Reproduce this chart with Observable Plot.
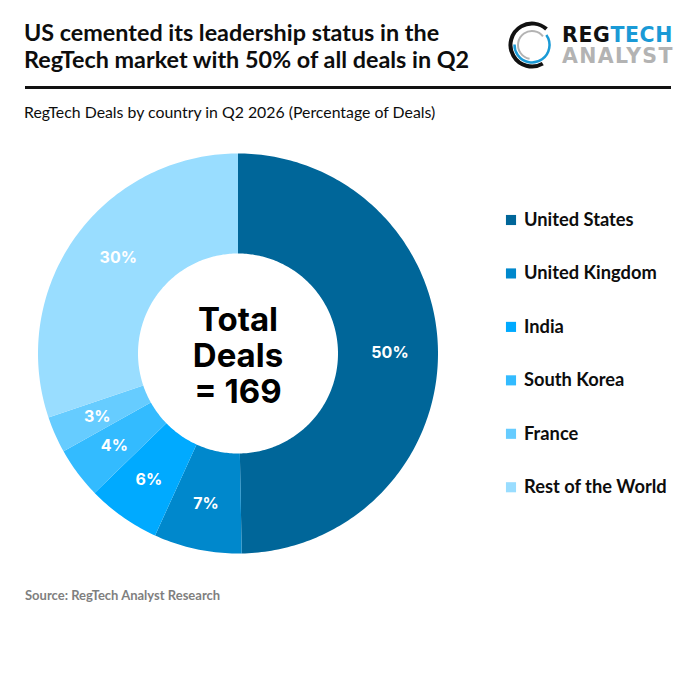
<!DOCTYPE html>
<html><head><meta charset="utf-8">
<script src="https://cdn.jsdelivr.net/npm/d3@7"></script>
<script src="https://cdn.jsdelivr.net/npm/@observablehq/plot@0.6"></script>
<style>
html,body{margin:0;padding:0;background:#fff;width:696px;height:696px;overflow:hidden}
body{position:relative;font-family:Lato,sans-serif;color:#0d0d0d}
.abs{position:absolute;white-space:nowrap}
#chart{position:absolute;left:0;top:0}
.logo{font-family:"DejaVu Sans",sans-serif;font-size:20.5px;font-weight:700;line-height:16px;height:16px}
.logo span{display:inline-block;height:16px;line-height:16px}
</style></head><body>
<div class="abs" style="left:24px;top:19px;font-size:23.35px;font-weight:700;line-height:26.5px">US cemented its leadership status in the<br>RegTech market with 50% of all deals in Q2</div>
<div class="abs" style="left:25px;top:86px;width:646px;height:2.5px;background:#111"></div>
<div class="abs" style="left:24px;top:102px;font-size:15.85px;line-height:20px">RegTech Deals by country in Q2 2026 (Percentage of Deals)</div>
<div class="abs" style="left:25px;top:587px;font-size:13px;line-height:16px;font-weight:700;color:#7f7f7f">Source: RegTech Analyst Research</div>
<svg class="abs" style="left:505.5px;top:19px" width="52" height="52" viewBox="-26 -26 52 52">
<circle r="21.5" fill="none" stroke="#111" stroke-width="4" stroke-dasharray="94 41" transform="rotate(60)"/>
<circle r="17.5" fill="none" stroke="#1a9ad6" stroke-width="2.5" stroke-dasharray="65.7 44.3" transform="rotate(-35)"/>
<circle r="14" fill="none" stroke="#b3b3b3" stroke-width="2" stroke-dasharray="53.8 34.2" transform="rotate(100)"/>
</svg>
<div class="abs logo" style="left:562px;top:26.7px;letter-spacing:.6px"><span style="color:#111">REG</span><span style="color:#1a9ad6">TECH</span></div>
<div class="abs logo" style="left:562px;top:47.7px;letter-spacing:1.35px;color:#b3b3b3">ANALYST</div>
<div id="chart"></div>
<script>
const countries = ["United States","United Kingdom","India","South Korea","France","Rest of the World"];
const deals = [84,12,10,7,5,51];
const labels = ["50%","7%","6%","4%","3%","30%"];
const colors = ["#006699","#0088CC","#00AAFF","#33BBFF","#66CCFF","#99DDFF"];
const centerLines = ["Total","Deals","= 169"];

const pie = d3.pie().sort(null)(deals);
const INNER = 0.5, LABEL_R = 0.765;
// Slice outlines in polar data units; x and y scales place them.
const outline = pie.flatMap((s,i)=>{
  const n = Math.max(8, Math.ceil((s.endAngle-s.startAngle)*60));
  const a = d3.range(n+1).map(k=>s.startAngle+(s.endAngle-s.startAngle)*k/n);
  const ring = [...a.map(t=>[t,1]),...a.slice().reverse().map(t=>[t,INNER])];
  return ring.map(([t,r])=>({c:countries[i],x:r*Math.sin(t),y:r*Math.cos(t)}));
});
const labelPts = pie.map((s,i)=>{
  const t=(s.startAngle+s.endAngle)/2 + (i===5?0.06:0);
  return {t:labels[i],x:LABEL_R*Math.sin(t),y:LABEL_R*Math.cos(t)};
});
const legendRows = countries.map((c,i)=>({c,x:1.365,y:(353-(219.5+53.45*i))/200}));

const chart = Plot.plot({
  width:696,height:696,margin:0,
  x:{domain:[-1,1],range:[37.5,437.5],axis:null},
  y:{domain:[-1,1],range:[553,153],axis:null},
  color:{domain:countries,range:colors},
  style:{background:"transparent"},
  marks:[
    Plot.line(outline,{x:"x",y:"y",z:"c",fill:"c",stroke:null,curve:"linear-closed"}),
    Plot.text(labelPts,{x:"x",y:"y",text:"t",dx:-1,dy:1,fill:"#fff",fontSize:16,fontWeight:700,fontFamily:"Inter"}),
    Plot.text([centerLines.join("\n")],{x:0,y:-0.01,text:d=>d,lineHeight:1.09,fill:"#000",fontSize:33,fontWeight:700,fontFamily:"Inter"}),
    Plot.dot(legendRows,{x:"x",y:"y",fill:"c",symbol:"square",r:5.7}),
    Plot.text(legendRows,{x:"x",y:"y",text:"c",dx:13,textAnchor:"start",fill:"#0d0d0d",fontSize:18.3,fontWeight:700,fontFamily:"Lato"})
  ]
});
document.getElementById("chart").append(chart);
</script>
</body></html>
